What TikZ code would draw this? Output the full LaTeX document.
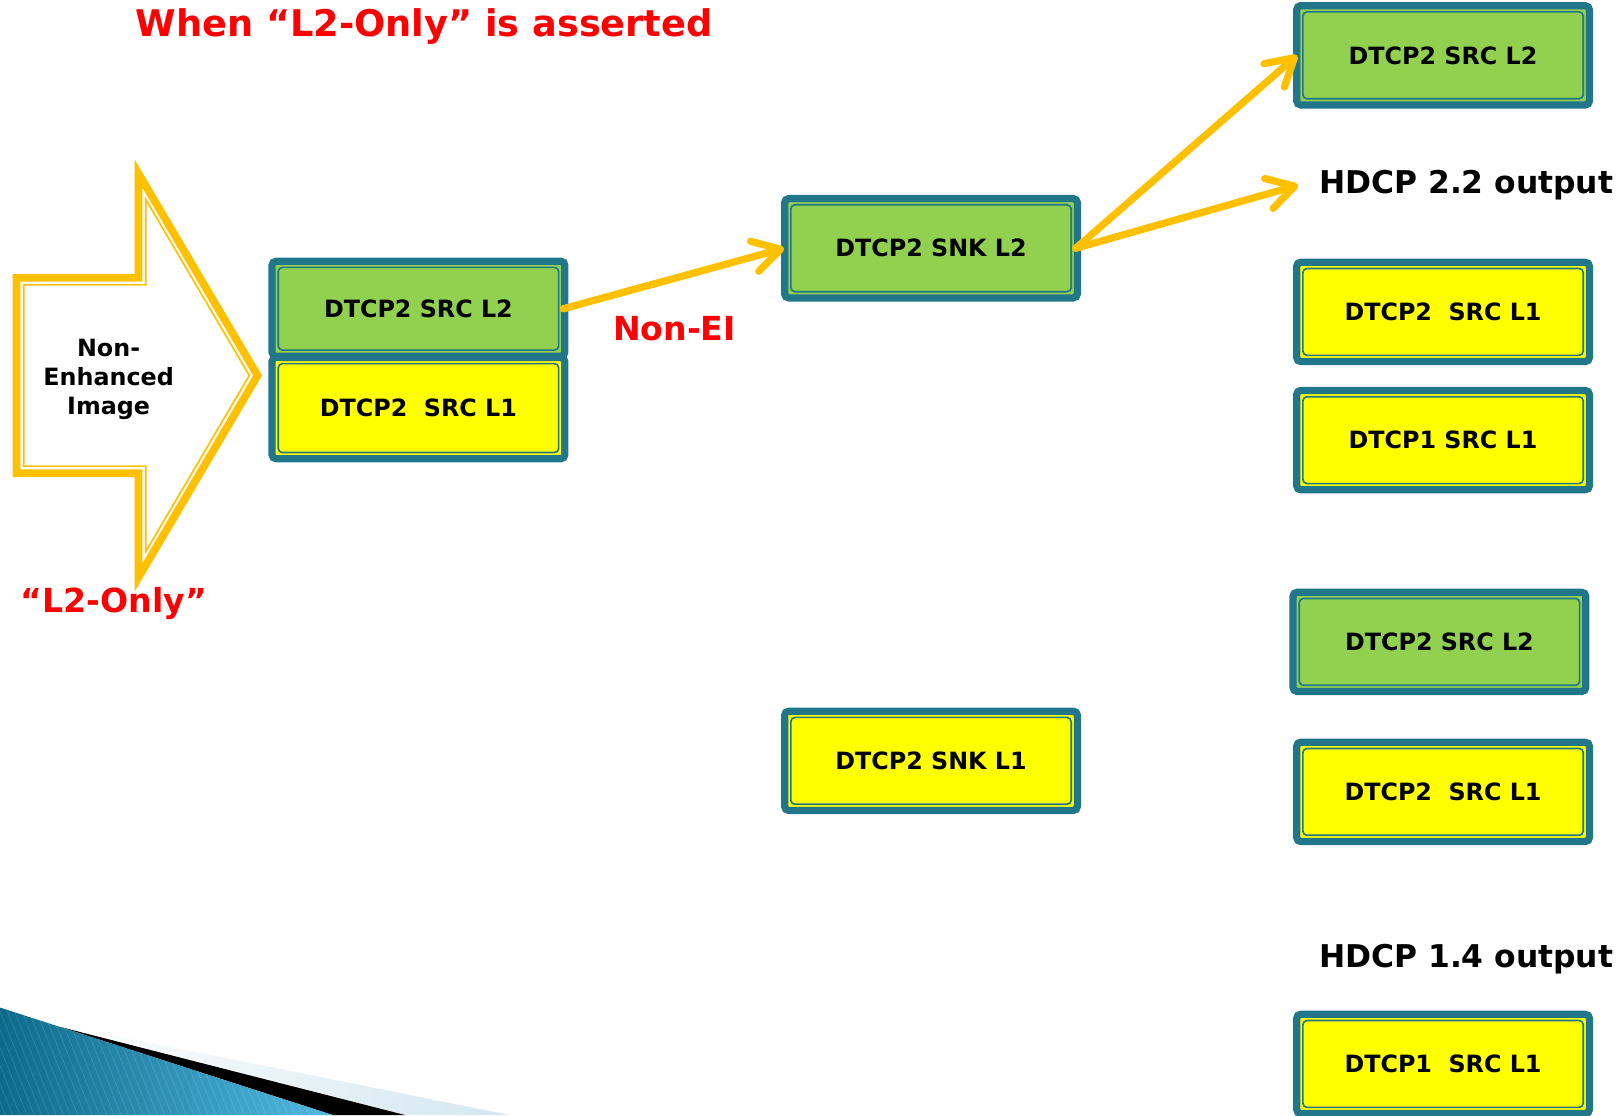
\documentclass[tikz,border=0pt]{standalone}
\usepackage{fontspec}
\setmainfont{DejaVu Sans}
\usetikzlibrary{arrows.meta}

\definecolor{boxteal}{HTML}{21768A}
\definecolor{boxgreen}{HTML}{92D050}
\definecolor{boxyellow}{HTML}{FFFF00}
\definecolor{amber}{HTML}{FFC000}
\definecolor{alertred}{HTML}{FF0000}
\definecolor{swdark}{HTML}{0C6A8A}
\definecolor{swlight}{HTML}{52BBE3}
\definecolor{swpale}{HTML}{D3E7F0}

\newcommand\fsz[2]{\fontsize{#1}{#2}\selectfont}

\tikzset{
  box/.style={draw=boxteal, line width=7pt, rounded corners=4pt,
    minimum width=283pt, minimum height=96pt, inner sep=0pt,
    font=\bfseries\fsz{23}{27}, text height=16.8pt, text depth=0pt,
    path picture={\draw[boxteal, line width=1.6pt]
      ([xshift=6pt,yshift=-6pt]path picture bounding box.north west) rectangle
      ([xshift=-6pt,yshift=6pt]path picture bounding box.south east);}},
  gbox/.style={box, fill=boxgreen},
  ybox/.style={box, fill=boxyellow},
  conn/.style={draw=amber, line width=7pt, line cap=round,
    -{Straight Barb[length=26pt,width=30pt,round]}},
  redlabel/.style={text=alertred, font=\bfseries\fsz{32}{38}, inner sep=0pt},
  outlabel/.style={font=\bfseries\fsz{30.3}{36}, anchor=west, inner sep=0pt}
}

\begin{document}
\begin{tikzpicture}[x=1pt,y=-1pt]
\useasboundingbox (0,0) rectangle (1568,1078);

% corner swoosh
\shade[left color=white, right color=swpale] (50,989) -- (493,1078) -- (392,1078) -- cycle;
\fill[black] (58,992.7) -- (392,1078) -- (322,1078) -- cycle;
\begin{scope}
  \clip (0,974) -- (322,1078) -- (0,1078) -- cycle;
  \shade[left color=swdark, right color=swlight] (0,960) rectangle (330,1078);
  \foreach \i in {-20,...,50}
    \draw[white, opacity=0.13, line width=0.8pt] ({\i*7},960) -- ++(50,125);
\end{scope}

% block arrow: thick outline with thin inner line
\draw[amber, line width=7.5pt, miter limit=10]
  (16,268.5) -- (134,268.5) -- (134,168) -- (249,363) -- (134,558)
  -- (134,457.5) -- (16,457.5) -- cycle;
\draw[amber, line width=1.6pt, miter limit=10]
  (22.9,275.4) -- (140.9,275.4) -- (140.9,192.8) -- (241,363) -- (140.9,533.2)
  -- (140.9,450.6) -- (22.9,450.6) -- cycle;
\node[font=\bfseries\fsz{23}{28}, align=center, inner sep=0pt] (nei) at (105,367)
  {Non-\\Enhanced\\Image};

% title and labels
\node[text=alertred, font=\bfseries\fsz{35.5}{42}, inner sep=0pt] (title) at (410,26)
  {When “L2-Only” is asserted};
\node[redlabel] (nonei) at (652,318) {Non-EI};
\node[redlabel] (only) at (110,583) {“L2-Only”};
\node[outlabel] (hdcpA) at (1275,179) {HDCP 2.2 output};
\node[outlabel] (hdcpB) at (1275,927) {HDCP 1.4 output};

% source pair on the left
\node[ybox, minimum height=98pt] (srcL1) at (404.5,394.5) {DTCP2~~SRC L1};
\node[gbox, minimum height=92pt] (srcL2) at (404.5,298.5) {DTCP2 SRC L2};

% sinks
\node[gbox] (snkA) at (900,240) {DTCP2 SNK L2};
\node[ybox] (snkB) at (900,735.5) {DTCP2 SNK L1};

% outputs
\node[gbox] (srcA) at (1395,53.5) {DTCP2 SRC L2};
\node[ybox] (srcB) at (1395,301.5) {DTCP2~~SRC L1};
\node[ybox] (srcC) at (1395,425.5) {DTCP1 SRC L1};
\node[gbox] (srcD) at (1391.5,620.5) {DTCP2 SRC L2};
\node[ybox] (srcE) at (1395,765.5) {DTCP2~~SRC L1};
\node[ybox] (srcF) at (1395,1028.5) {DTCP1~~SRC L1};

% connectors
\draw[conn] ([xshift=-5pt]srcL2.east) -- ([xshift=3pt]snkA.west);
\draw[conn] ([xshift=-5pt]snkA.east) -- ([xshift=4pt]srcA.west);
\draw[conn] ([xshift=-5pt]snkA.east) -- ([xshift=-20pt]hdcpA.west);
\end{tikzpicture}
\end{document}
